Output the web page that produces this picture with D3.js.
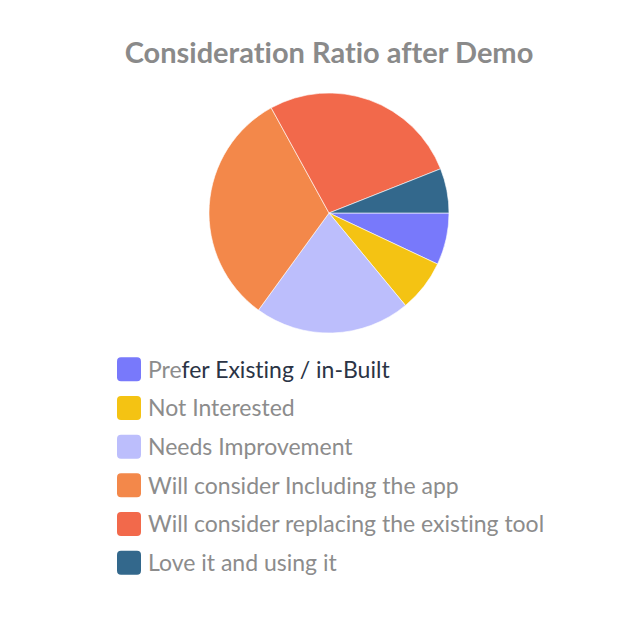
<!DOCTYPE html>
<html>
<head>
<meta charset="utf-8">
<script src="https://cdn.jsdelivr.net/npm/d3@7"></script>
<style>
  body { margin: 0; background: #fff; }
  svg { display: block; }
  text { font-variant-ligatures: none; }
</style>
</head>
<body>
<svg id="chart" width="640" height="640"></svg>
<script>
// Data (shares in percent)
var categories = [
    "Prefer Existing / in-Built",
    "Not Interested",
    "Needs Improvement",
    "Will consider Including the app",
    "Will consider replacing the existing tool",
    "Love it and using it"
];
var values = [7, 7, 21, 32, 27, 6];
var colors = ["#7879fb", "#f4c313", "#bcbefc", "#f3884a", "#f2694b", "#33688c"];

var svg = d3.select("#chart");

// Title
svg.append("text")
    .attr("x", 329)
    .attr("y", 63)
    .attr("text-anchor", "middle")
    .style("font-family", "Lato, sans-serif")
    .style("font-weight", "bold")
    .style("font-size", "29px")
    .style("fill", "#8a8a8a")
    .text("Consideration Ratio after Demo");

// Pie, starting at 3 o'clock and going clockwise
var cx = 329, cy = 213, radius = 120;

var pie = d3.pie()
    .sort(null)
    .value(function(d) { return d; })
    .startAngle(Math.PI / 2)
    .endAngle(Math.PI / 2 + 2 * Math.PI);

var arc = d3.arc()
    .innerRadius(0)
    .outerRadius(radius);

var g = svg.append("g")
    .attr("transform", "translate(" + cx + "," + cy + ")");

g.selectAll("path")
    .data(pie(values))
    .enter()
    .append("path")
    .attr("d", arc)
    .style("fill", function(d, i) { return colors[i]; })
    .style("stroke", "#fff")
    .style("stroke-width", 0.6);

// Legend
var legendY = d3.scaleBand()
    .domain(d3.range(categories.length))
    .range([350, 582]);

var item = svg.selectAll(".legend")
    .data(categories)
    .enter()
    .append("g")
    .attr("class", "legend")
    .attr("transform", function(d, i) { return "translate(117," + legendY(i) + ")"; });

var bh = legendY.bandwidth();

item.append("rect")
    .attr("x", 0)
    .attr("y", bh / 2 - 12)
    .attr("width", 24)
    .attr("height", 24)
    .attr("rx", 4)
    .style("fill", function(d, i) { return colors[i]; });

var label = item.append("text")
    .attr("x", 31)
    .attr("y", bh / 2)
    .attr("dy", "0.36em")
    .style("font-family", "Lato, sans-serif")
    .style("font-size", "23px")
    .style("fill", "#8c8c8c");

// first label shows the hover highlight caught mid-transition
label.each(function(d, i) {
    var t = d3.select(this);
    if (i === 0) {
        t.append("tspan").text(d.slice(0, 3));
        t.append("tspan").style("fill", "#2b3445").text(d.slice(3));
    } else {
        t.text(d);
    }
});
</script>
</body>
</html>
